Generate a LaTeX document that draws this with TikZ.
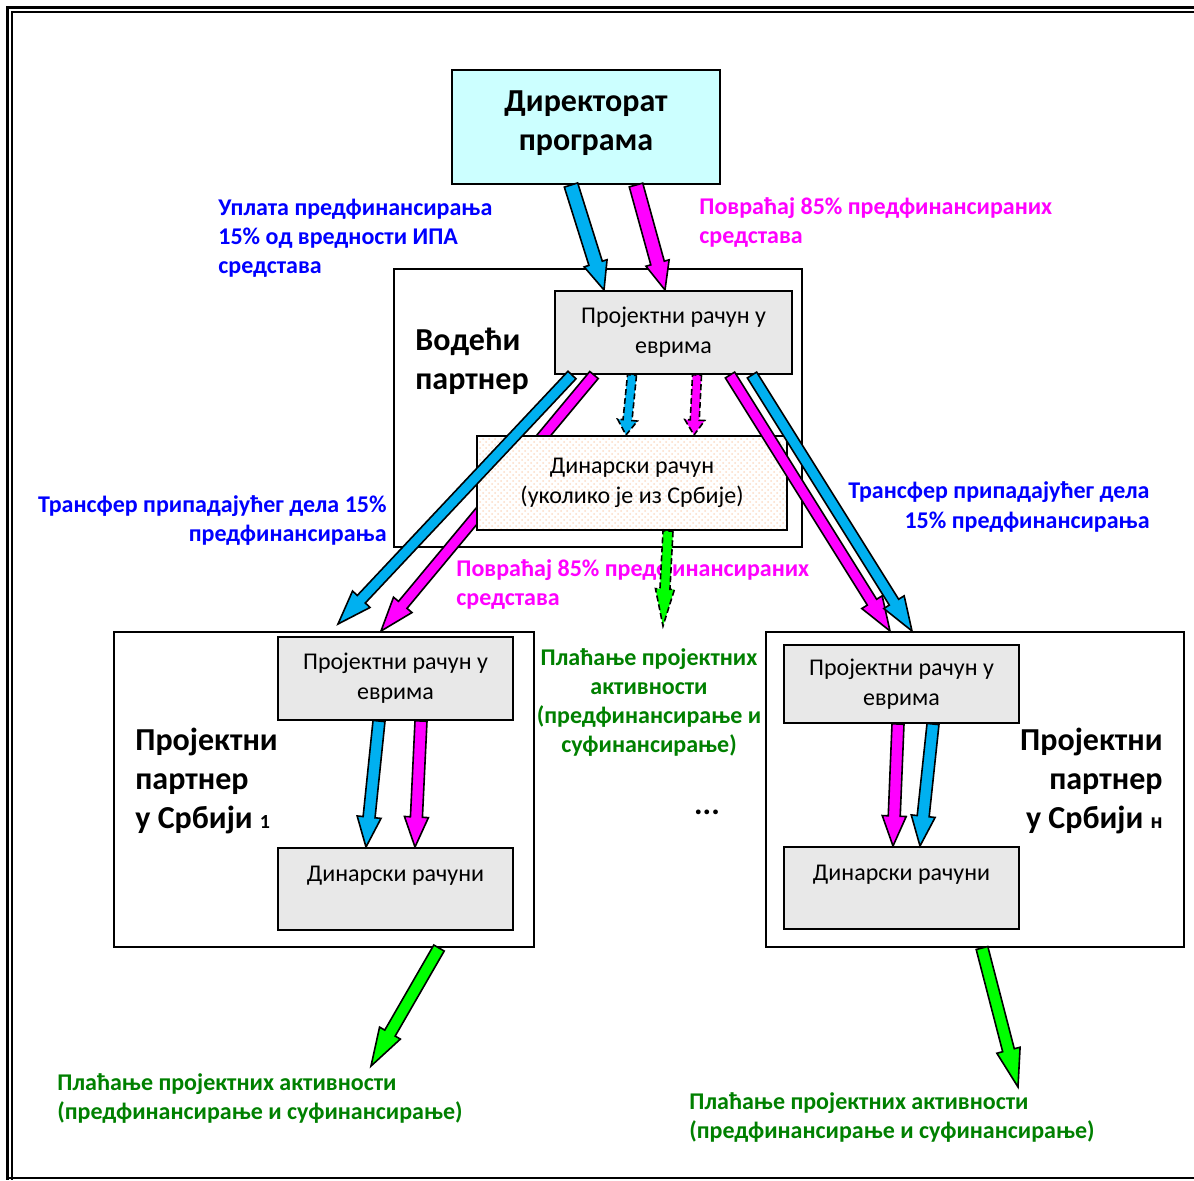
\documentclass[tikz,border=0pt]{standalone}
\usepackage{fontspec}
\setmainfont{Carlito}
\usetikzlibrary{calc,patterns}

\definecolor{arrowblue}{HTML}{00B0F0}
\definecolor{arrowpink}{HTML}{FF00FF}
\definecolor{arrowgreen}{HTML}{00FF00}
\definecolor{textblue}{HTML}{0000FF}
\definecolor{textgreen}{HTML}{008000}
\definecolor{boxgray}{HTML}{E8E8E8}
\definecolor{boxcyan}{HTML}{CCFFFF}
\definecolor{dotpeach}{HTML}{FBDCC6}

\tikzset{
    account/.style={draw=black, line width=1pt, fill=boxgray, inner sep=0pt, align=center,
        font=\fontsize{12}{15}\selectfont},
    partner/.style={draw=black, line width=1pt, fill=white, inner sep=0pt},
    title/.style={font=\bfseries\fontsize{16}{19.5}\selectfont, inner sep=0pt},
    note/.style={font=\bfseries\fontsize{12}{14.5}\selectfont, inner sep=0pt},
    fat/.style={draw=black, line width=0.8pt, line join=miter},
    dashfat/.style={fat, dash pattern=on 3pt off 1.5pt}
}

% block arrow: [style]{tail}{tip}{shaft half width}{head half width}{head length}
\newcommand{\blockarrow}[6][]{%
    \coordinate (ba) at (#2);
    \coordinate (bb) at (#3);
    \coordinate (bh) at ($(bb)!#6!(ba)$);
    \draw[fat,#1] ($(ba)!#4!90:(bb)$) -- ($(bh)!#4!90:(bb)$) -- ($(bh)!#5!90:(bb)$)
        -- (bb) -- ($(bh)!#5!-90:(bb)$) -- ($(bh)!#4!-90:(bb)$) -- ($(ba)!#4!-90:(bb)$) -- cycle;
}

\begin{document}
\begin{tikzpicture}[x=0.5pt, y=-0.5pt]
    \useasboundingbox (0,0) rectangle (1194,1180);

    % Draw the page frame
    \draw[line width=1.5pt] (1194,7) -- (7,7) -- (7,1180);
    \draw[line width=1pt] (1194,12) -- (12,12) -- (12,1180);
    \draw[line width=1pt] (7,1178) -- (1194,1178);

    % Draw the boxes
    \node[draw=black, line width=1pt, fill=boxcyan, minimum width=134pt, minimum height=57pt,
        title, align=center] (dir) at (586,127) {Директорат\\програма\\[-13pt]};
    \node[partner, minimum width=204pt, minimum height=139pt] (lead) at (598,408) {};
    \node[account, minimum width=118.5pt, minimum height=41.5pt] (leur) at (673.5,332.5)
        {Пројектни рачун у\\еврима};

    \node[partner, minimum width=210pt, minimum height=157.5pt] (p1) at (324,789.5) {};
    \node[account, minimum width=117.5pt, minimum height=41.5pt] (p1eur) at (395.5,678.5)
        {Пројектни рачун у\\еврима};
    \node[account, minimum width=117.5pt, minimum height=41pt] (p1din) at (395.5,889)
        {Динарски рачуни\\~};

    \node[partner, minimum width=209pt, minimum height=157.5pt] (pn) at (975,789.5) {};
    \node[account, minimum width=117.5pt, minimum height=39pt] (pneur) at (901.5,684)
        {Пројектни рачун у\\еврима};
    \node[account, minimum width=117.5pt, minimum height=41pt] (pndin) at (901.5,888)
        {Динарски рачуни\\~};

    % Draw the titles and notes
    \node[title, anchor=west, align=left] (leadname) at (415,361) {Водећи\\партнер};
    \node[title, anchor=west, align=left] (p1name) at (135,781)
        {Пројектни\\партнер\\у Србији {\fontsize{10}{10}\selectfont 1}};
    \node[title, anchor=east, align=right] (pnname) at (1163,781)
        {Пројектни\\партнер\\у Србији {\fontsize{11}{11}\selectfont н}};

    \node[note, textblue, anchor=west, align=left] (paynote) at (218,238)
        {Уплата предфинансирања\\15\% од вредности ИПА\\средстава};
    \node[note, arrowpink, anchor=west, align=left] (refundnote) at (699,223)
        {Повраћај 85\% предфинансираних\\средстава};
    \node[note, textblue, anchor=east, align=right] (transleft) at (387,520)
        {Трансфер припадајућег дела 15\%\\предфинансирања};
    \node[note, textblue, anchor=east, align=right] (transright) at (1150,507)
        {Трансфер припадајућег дела\\15\% предфинансирања};
    \node[note, arrowpink, anchor=west, align=left] (refundmid) at (456,584)
        {Повраћај 85\% предфинансираних\\средстава};
    \node[note, textgreen, align=center] (spendmid) at (649,702)
        {Плаћање пројектних\\активности\\(предфинансирање и\\суфинансирање)};
    \node[font=\bfseries\fontsize{16}{16}\selectfont, inner sep=0pt] (dots) at (707,812) {...};
    \node[note, textgreen, anchor=west, align=left] (spend1) at (57,1098)
        {Плаћање пројектних активности\\(предфинансирање и суфинансирање)};
    \node[note, textgreen, anchor=west, align=left] (spendn) at (689,1117)
        {Плаћање пројектних активности\\(предфинансирање и суфинансирање)};

    % Draw the arrow that goes under the dinar account
    \blockarrow[fill=arrowpink]{leur.south -| 594,0}{p1.north -| 381,0}{2.75pt}{6pt}{17pt}

    \node[draw=black, line width=1pt, preaction={fill=white}, pattern=crosshatch dots,
        pattern color=dotpeach, inner sep=0pt, align=center,
        font=\fontsize{12}{15}\selectfont, minimum width=155pt, minimum height=47pt] (ldin)
        at (632,483) {Динарски рачун\\(уколико је из Србије)};

    % Draw the free ends of the arrows
    \coordinate (tip1) at (338,624);
    \coordinate (tipmid) at (663,626);
    \coordinate (tippay1) at (371,1066);
    \coordinate (tippayn) at (1018,1087);

    % Draw the arrows from the directorate
    \blockarrow[fill=arrowblue]{dir.south -| 571,0}{leur.north -| 604,0}{3.5pt}{6pt}{14pt}
    \blockarrow[fill=arrowpink]{dir.south -| 636,0}{leur.north -| 665,0}{3.5pt}{6pt}{14pt}

    % Draw the arrows of the lead partner
    \blockarrow[fill=arrowblue]{leur.south -| 572,0}{tip1}{2.75pt}{6pt}{17pt}
    \blockarrow[fill=arrowpink]{leur.south -| 730,0}{pn.north -| 890,0}{2.75pt}{6pt}{17pt}
    \blockarrow[fill=arrowblue]{leur.south -| 752,0}{pn.north -| 912,0}{2.75pt}{6pt}{17pt}
    \blockarrow[dashfat, fill=arrowblue]{leur.south -| 632,0}{ldin.north -| 626,0}{2.25pt}{5pt}{7.5pt}
    \blockarrow[dashfat, fill=arrowpink]{leur.south -| 697,0}{ldin.north -| 694,0}{2.25pt}{5pt}{7.5pt}
    \blockarrow[dashfat, fill=arrowgreen]{ldin.south -| 668,0}{tipmid}{2.5pt}{4.75pt}{18.5pt}

    % Draw the arrows of the partners
    \blockarrow[fill=arrowblue]{p1eur.south -| 379,0}{p1din.north -| 366,0}{3pt}{6pt}{15pt}
    \blockarrow[fill=arrowpink]{p1eur.south -| 421,0}{p1din.north -| 415,0}{3pt}{6pt}{15pt}
    \blockarrow[fill=arrowpink]{pneur.south -| 898,0}{pndin.north -| 893,0}{3pt}{6pt}{15pt}
    \blockarrow[fill=arrowblue]{pneur.south -| 933,0}{pndin.north -| 920,0}{3pt}{6pt}{15pt}
    \blockarrow[fill=arrowgreen]{p1.south -| 439,0}{tippay1}{3pt}{6pt}{19pt}
    \blockarrow[fill=arrowgreen]{pn.south -| 982,0}{tippayn}{3pt}{6pt}{19pt}
\end{tikzpicture}
\end{document}
